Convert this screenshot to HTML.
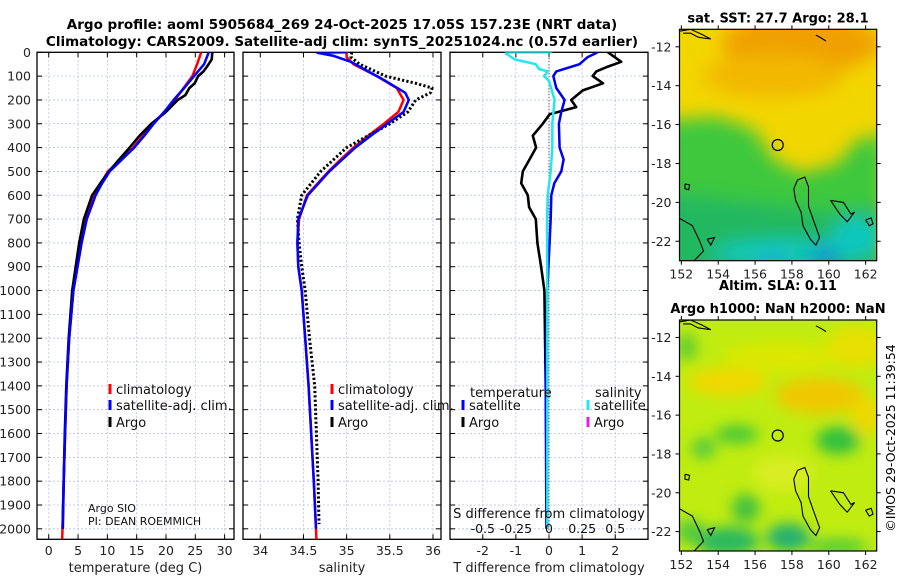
<!DOCTYPE html>
<html><head><meta charset="utf-8"><style>
html,body{margin:0;padding:0;background:#fff}
svg{display:block;font-family:"DejaVu Sans","Liberation Sans",sans-serif}
</style></head><body>
<svg id="fig" width="900" height="580" viewBox="0 0 900 580" xmlns="http://www.w3.org/2000/svg">
<defs>
<filter id="blur1" x="-20%" y="-20%" width="140%" height="140%"><feGaussianBlur stdDeviation="9"/></filter>
<filter id="blur2" x="-20%" y="-20%" width="140%" height="140%"><feGaussianBlur stdDeviation="7"/></filter>
<clipPath id="clipM1"><rect x="679.7" y="29.3" width="197" height="231.4"/></clipPath>
<clipPath id="clipM2"><rect x="679.3" y="320" width="197.4" height="231"/></clipPath>
<clipPath id="clipP1"><rect x="37" y="52.3" width="197" height="487"/></clipPath>
<clipPath id="clipP2"><rect x="243" y="52.3" width="198" height="487"/></clipPath>
<clipPath id="clipP3"><rect x="450" y="52.3" width="198" height="487"/></clipPath>
</defs>
<g font-weight="bold" font-size="13.5" text-anchor="middle">
<text x="342" y="29">Argo profile: aoml 5905684_269 24-Oct-2025 17.05S 157.23E (NRT data)</text>
<text x="342" y="46">Climatology: CARS2009. Satellite-adj clim: synTS_20251024.nc (0.57d earlier)</text>
</g>
<g id="panels"></g>
<g id="maps"></g>
<text transform="translate(895,438) rotate(-90)" text-anchor="middle" font-size="12.5">©IMOS 29-Oct-2025 11:39:54</text>
</svg>
<script>
// ---------- data ----------
const tempClimDepth = [0,50,100,150,200,250,300,350,400,450,500,550,600,700,800,900,1000,1200,1400,1600,1800,2000,2044];
const tempClimVal   = [26.0,25.3,24.5,23.0,21.5,19.7,17.8,16.1,14.4,12.3,10.1,8.9,7.8,6.4,5.6,4.9,4.2,3.5,3.05,2.8,2.55,2.35,2.3];
const tempSatDepth  = [0,50,100,150,200,250,300,350,400,450,500,550,600,700,800,900,1000,1200,1400,1600,1800,2000];
const tempSatVal    = [27.3,26.5,24.8,23.1,21.3,19.7,17.9,16.3,14.6,12.5,10.4,9.1,8.0,6.5,5.6,4.9,4.2,3.5,3.05,2.8,2.55,2.35];
const tempArgoDepth = [0,30,60,80,100,130,150,180,200,250,300,350,400,450,500,550,600,700,800,1000,1200,1400,1600,1800,2000];
const tempArgoVal   = [27.9,27.8,27.0,26.4,25.5,24.9,24.0,23.3,22.0,20.0,17.5,15.5,13.8,12.0,10.3,8.8,7.4,6.0,5.2,4.0,3.4,3.0,2.75,2.55,2.4];

const salClimDepth = [0,20,50,100,150,200,250,300,350,400,450,500,600,700,800,900,1000,1200,1400,1600,1800,2000,2044];
const salClimVal   = [35.0,35.0,35.08,35.35,35.58,35.66,35.6,35.43,35.25,35.08,34.93,34.79,34.54,34.45,34.43,34.44,34.48,34.52,34.56,34.59,34.62,34.645,34.65];
const salSatDepth  = [0,2,15,40,80,120,170,200,250,300,350,400,450,500,600,700,800,900,1000,1200,1400,1600,1800,2000];
const salSatVal    = [35.0,34.66,34.85,35.05,35.25,35.45,35.68,35.72,35.66,35.47,35.28,35.1,34.95,34.8,34.55,34.44,34.43,34.44,34.48,34.52,34.56,34.59,34.62,34.645];
const salArgoDepth = [0,20,50,100,130,150,170,200,250,300,350,400,450,500,600,700,800,900,1000,1200,1400,1600,1800,1980];
const salArgoVal   = [35.06,35.05,35.15,35.45,35.8,35.99,35.97,35.8,35.71,35.5,35.25,35.0,34.85,34.7,34.48,34.43,34.45,34.48,34.52,34.57,34.63,34.65,34.67,34.68];

const dTSatDepth  = [0,20,50,80,100,150,200,250,300,400,450,500,550,600,700,1000,1400,2000];
const dTSatVal    = [1.47,1.17,0.92,0.22,0.13,0.22,0.47,0.37,0.30,0.32,0.44,0.37,0.16,0.07,0.05,-0.05,-0.1,-0.08];
const dTArgoDepth = [0,20,40,60,80,100,130,160,200,230,260,300,350,400,450,500,550,600,650,700,800,900,1000,1400,2000];
const dTArgoVal   = [1.78,1.98,2.18,1.78,1.43,1.32,1.63,1.02,0.67,0.82,0.02,-0.19,-0.49,-0.39,-0.59,-0.79,-0.84,-0.64,-0.6,-0.4,-0.35,-0.24,-0.14,-0.1,-0.05];
const dSSatDepth  = [0,0.5,5,30,50,70,80,100,120,200,300,400,500,600,700,1000,1400,2000];
const dSSatVal    = [0.025,-0.325,-0.325,-0.26,-0.1,-0.075,-0.01,-0.0375,0,0.0425,0.025,0.025,0.0125,-0.01,-0.015,-0.0125,-0.0125,-0.0125];

const depthTicks = [0,100,200,300,400,500,600,700,800,900,1000,1100,1200,1300,1400,1500,1600,1700,1800,1900,2000];
const tempTicks = [0,5,10,15,20,25,30];
const salTicks = [34,34.5,35,35.5,36];
const salTickLabels = ["34","34.5","35","35.5","36"];
const dTTicks = [-2,-1,0,1,2];
const dSTicks = [-0.5,-0.25,0,0.25,0.5];
const dSTickLabels = ["-0.5","-0.25","0","0.25","0.5"];
const lonTicks = [152,154,156,158,160,162];
const latTicks = [-12,-14,-16,-18,-20,-22];
const argoLon = 157.23, argoLat = -17.05;

// ---------- helpers ----------
const NS = "http://www.w3.org/2000/svg";
function mk(tag, attrs, parent){const e=document.createElementNS(NS,tag);for(const k in attrs)e.setAttribute(k,attrs[k]);parent.appendChild(e);return e;}
const Y0=52.3, YB=539.3, DMAX=2044;
const yD = d => Y0 + d*(YB-Y0)/DMAX;
function lin(d0,d1,r0,r1){return v=>r0+(v-d0)*(r1-r0)/(d1-d0);}

const panels = document.getElementById('panels');
const P = [
 {x0:37,x1:234,sx:lin(-2,31.6,37,234),clip:'clipP1',name:'temperature-panel'},
 {x0:243,x1:441,sx:lin(33.8,36.093,243,441),clip:'clipP2',name:'salinity-panel'},
 {x0:450,x1:648,sx:lin(-2.99,2.99,450,648),clip:'clipP3',name:'difference-panel'}
];

function drawFrame(p, xt, xl, title){
 const g = mk('g',{},panels);
 
 
 // grid
 depthTicks.forEach(d=>{
  const l=mk('line',{x1:p.x0,x2:p.x1,y1:yD(d),y2:yD(d),stroke:'#b8c0e0','stroke-width':0.8,'stroke-dasharray':'2,2'},g);
  
  
  mk('line',{x1:p.x0,x2:p.x0+5,y1:yD(d),y2:yD(d),stroke:'#000','stroke-width':1},g);
  mk('line',{x1:p.x1-5,x2:p.x1,y1:yD(d),y2:yD(d),stroke:'#000','stroke-width':1},g);
 });
 xt.forEach((v,i)=>{
  const x=p.sx(v);
  const l=mk('line',{x1:x,x2:x,y1:Y0,y2:YB,stroke:'#b8c0e0','stroke-width':0.8,'stroke-dasharray':'2,2'},g);
  
  
  mk('line',{x1:x,x2:x,y1:YB-5,y2:YB,stroke:'#000','stroke-width':1},g);
  mk('line',{x1:x,x2:x,y1:Y0,y2:Y0+5,stroke:'#000','stroke-width':1},g);
  const t=mk('text',{x:x,y:555,'text-anchor':'middle','font-size':12.5,fill:'#222'},g);
  t.textContent=xl[i];
  
  
 });
 const r=mk('rect',{x:p.x0,y:Y0,width:p.x1-p.x0,height:YB-Y0,fill:'none',stroke:'#000','stroke-width':1.3},g);
 const at=mk('text',{x:(p.x0+p.x1)/2,y:572,'text-anchor':'middle','font-size':13,fill:'#222'},g);
 at.textContent=title;
 
 
 return g;
}
function line(p,depths,vals,color,w,name,dash,sx){
 sx = sx||p.sx;
 const pts=depths.map((d,i)=>sx(vals[i]).toFixed(1)+','+yD(d).toFixed(1)).join(' ');
 const a={points:pts,fill:'none',stroke:color,'stroke-width':w,'stroke-linejoin':'round','clip-path':'url(#'+p.clip+')'};
 if(dash)a['stroke-dasharray']=dash;
 const e=mk('polyline',a,panels);
 
 
 return e;
}
function legend(x,y,color,label,name){
 const g=mk('g',{},panels);
 
 
 mk('rect',{x:x-1.5,y:y-8,width:3,height:10,fill:color},g);
 if(label){const t=mk('text',{x:x+6,y:y+2,'font-size':13,fill:'#111'},g);t.textContent=label;}
}

// Depth axis labels
depthTicks.forEach(d=>{
 const t=mk('text',{x:31,y:yD(d)+4.5,'text-anchor':'end','font-size':12.5,fill:'#222'},panels);
 t.textContent=String(d);
 
 
});

// Panel 1
drawFrame(P[0],tempTicks,tempTicks.map(String),'temperature (deg C)');
line(P[0],tempClimDepth,tempClimVal,'#f00',2.5,'temperature-climatology-line');
line(P[0],tempArgoDepth,tempArgoVal,'#000',2.6,'temperature-argo-line');
line(P[0],tempSatDepth,tempSatVal,'#00f',2.5,'temperature-satellite-line');
legend(110,392,'#f00','climatology','legend-climatology');
legend(110,408,'#00f','satellite-adj. clim.','legend-satellite');
legend(110,425,'#000','Argo','legend-argo');
{const t=mk('text',{x:88,y:512,'font-size':11,fill:'#111'},panels);t.textContent='Argo SIO';
 const t2=mk('text',{x:88,y:525,'font-size':11,fill:'#111'},panels);t2.textContent='PI: DEAN ROEMMICH';}

// Panel 2
drawFrame(P[1],salTicks,salTickLabels,'salinity');
line(P[1],salClimDepth,salClimVal,'#f00',2.5,'salinity-climatology-line');
line(P[1],salArgoDepth,salArgoVal,'#000',3,'salinity-argo-line','2.2,2.2');
line(P[1],salSatDepth,salSatVal,'#00f',2.5,'salinity-satellite-line');
legend(332,392,'#f00','climatology','legend-climatology');
legend(332,408,'#00f','satellite-adj. clim.','legend-satellite');
legend(332,425,'#000','Argo','legend-argo');

// Panel 3
drawFrame(P[2],dTTicks,dTTicks.map(String),'T difference from climatology');
const sxS = lin(-0.7475,0.7475,450,648);
{const z=mk('line',{x1:P[2].sx(0),x2:P[2].sx(0),y1:Y0,y2:YB,stroke:'#333','stroke-width':1,'stroke-dasharray':'1,2'},panels);}
line(P[2],dTArgoDepth,dTArgoVal,'#000',2.6,'t-diff-argo-line');
line(P[2],dTSatDepth,dTSatVal,'#0000ee',2.5,'t-diff-satellite-line');
line(P[2],dSSatDepth,dSSatVal,'#22e8ee',2.5,'s-diff-satellite-line',null,sxS);
{const t=mk('text',{x:470,y:397,'font-size':13,fill:'#111'},panels);t.textContent='temperature';
 const t2=mk('text',{x:595,y:397,'font-size':13,fill:'#111'},panels);t2.textContent='salinity';}
legend(463,408,'#00f','satellite','legend-t-satellite');
legend(463,425,'#000','Argo','legend-t-argo');
legend(588,408,'#22e8ee','satellite','legend-s-satellite');
legend(588,425,'#e020e0','Argo','legend-s-argo');
{const t=mk('text',{x:549,y:518,'text-anchor':'middle','font-size':13,fill:'#111'},panels);t.textContent='S difference from climatology';}
dSTicks.forEach((v,i)=>{
 const t=mk('text',{x:sxS(v),y:533,'text-anchor':'middle','font-size':12.5,fill:'#111'},panels);
 t.textContent=dSTickLabels[i];
 
 
});

// ---------- maps ----------
const maps=document.getElementById('maps');
const islandA=[[158.3,-18.85],[158.7,-18.7],[158.9,-19.2],[158.9,-20.2],[159.2,-21],[159.5,-21.8],[159.3,-22.2],[159.0,-21.9],[158.6,-21.2],[158.5,-20.5],[158.2,-19.9],[158.1,-19.3],[158.3,-18.85]];
const islandB=[[160.1,-19.9],[160.8,-20.0],[161.2,-20.6],[161.4,-20.5],[161.0,-21.0],[160.6,-20.6],[160.1,-19.9]];
const islandC=[[162.0,-20.9],[162.3,-20.8],[162.4,-21.1],[162.2,-21.2],[162.0,-20.9]];
const coastL=[[151.85,-20.8],[152.6,-21.2],[153.0,-22.0],[153.2,-22.5],[152.6,-23.1]];
const coastTop=[[151.9,-11.2],[152.5,-11.1],[153.1,-11.35],[153.6,-11.6],[153.2,-11.55],[152.9,-11.5],[152.5,-11.3],[152.1,-11.3]];
const islandD=[[153.4,-21.9],[153.8,-21.8],[153.6,-22.2],[153.4,-21.9]];
const islandE=[[152.2,-19.05],[152.45,-19.1],[152.4,-19.35],[152.2,-19.3],[152.2,-19.05]];
const islandF=[[159.3,-11.4],[159.6,-11.55],[159.85,-11.7]];

function drawMap(top,bottom,clip,title1,title2,kind){
 const X0=679.5,X1=876.7;
 const mx=lin(151.9,162.6,X0,X1);
 const my=lin(-11.1,-23.0,top,bottom);
 const g=mk('g',{},maps);
 
 
 const f=mk('g',{'clip-path':'url(#'+clip+')'},g);
 if(kind==='sst'){
  mk('rect',{x:X0,y:top,width:X1-X0,height:bottom-top,fill:'#f2d600'},f);
  const b=mk('g',{filter:'url(#blur1)'},f);
  mk('ellipse',{cx:mx(158.5),cy:my(-11.8),rx:80,ry:30,fill:'#f0a000'},b);
  mk('ellipse',{cx:mx(157),cy:my(-13.5),rx:70,ry:22,fill:'#f2b800'},b);
  mk('polygon',{points:[[151,-15.8],[154,-15.6],[156,-16.3],[157,-17.8],[158.5,-18.5],[160.5,-18],[161.5,-16.8],[163,-16.5],[163,-24],[151,-24]].map(q=>mx(q[0])+','+my(q[1])).join(' '),fill:'#3cc83c'},b);
  mk('polygon',{points:[[151,-19.5],[156,-20],[160,-20.5],[163,-20.2],[163,-24],[151,-24]].map(q=>mx(q[0])+','+my(q[1])).join(' '),fill:'#20b860'},b);
  mk('ellipse',{cx:mx(157.5),cy:my(-22.6),rx:70,ry:14,fill:'#10c8b8'},b);
  mk('ellipse',{cx:mx(161.5),cy:my(-21.8),rx:25,ry:20,fill:'#10c8c0'},b);
  mk('ellipse',{cx:mx(159.8),cy:my(-22.8),rx:14,ry:8,fill:'#1080e0'},b);
  mk('ellipse',{cx:mx(157),cy:my(-23),rx:14,ry:6,fill:'#20a8e8'},b);
 } else {
  mk('rect',{x:X0,y:top,width:X1-X0,height:bottom-top,fill:'#c0ec10'},f);
  const b=mk('g',{filter:'url(#blur2)'},f);
  [[154.5,-14.3,40,14,'#f0d800'],[159.5,-15,45,18,'#f0c800'],[157.5,-13,60,15,'#dce800'],[161.5,-12.5,30,20,'#e8e000'],[162,-16,14,20,'#eed800'],[157.5,-19,30,18,'#d8ee20'],
   [155,-17,22,9,'#44c838'],[153.2,-17.7,12,10,'#50c840'],[160.5,-17.3,22,14,'#30c040'],[152.3,-12.5,10,14,'#60cc30'],[155.5,-20.8,14,14,'#40c040'],
   [154.5,-22.5,32,14,'#28b860'],[157.8,-22.3,22,14,'#20b070'],[160.5,-22.8,30,8,'#50c840'],[152.5,-22,14,12,'#50c840']].forEach(e=>{
   mk('ellipse',{cx:mx(e[0]),cy:my(e[1]),rx:e[2],ry:e[3],fill:e[4]},b);
  });
 }
 [islandA,islandB,islandC,coastL,coastTop,islandD,islandE,islandF].forEach((c,i)=>{
  const e=mk('polyline',{points:c.map(q=>mx(q[0]).toFixed(1)+','+my(q[1]).toFixed(1)).join(' '),fill:'none',stroke:'#000','stroke-width':1.1},f);
  
  
 });
 const c=mk('circle',{cx:mx(argoLon),cy:my(argoLat),r:5.5,fill:'none',stroke:'#000','stroke-width':1.2},g);
 
 
 mk('rect',{x:X0,y:top,width:X1-X0,height:bottom-top,fill:'none',stroke:'#000','stroke-width':1.2},g);
 latTicks.forEach(v=>{
  mk('line',{x1:X0-4,x2:X0,y1:my(v),y2:my(v),stroke:'#000'},g);
  mk('line',{x1:X1,x2:X1+4,y1:my(v),y2:my(v),stroke:'#000'},g);
  const t=mk('text',{x:X0-8,y:my(v)+4.5,'text-anchor':'end','font-size':12.5,fill:'#222'},g);
  t.textContent=String(v);
  
  
 });
 lonTicks.forEach(v=>{
  mk('line',{x1:mx(v),x2:mx(v),y1:bottom,y2:bottom+4,stroke:'#000'},g);
  mk('line',{x1:mx(v),x2:mx(v),y1:top-4,y2:top,stroke:'#000'},g);
  const t=mk('text',{x:mx(v),y:bottom+18,'text-anchor':'middle','font-size':12.5,fill:'#222'},g);
  t.textContent=String(v);
  
  
 });
 const t1=mk('text',{x:778,y:title2?top-30:top-7,'text-anchor':'middle','font-size':13,'font-weight':'bold'},g);
 t1.textContent=title1;
 
 
 if(title2){const t2=mk('text',{x:778,y:top-7,'text-anchor':'middle','font-size':13,'font-weight':'bold'},g);t2.textContent=title2;
  
  }
}
drawMap(29.3,260.7,'clipM1','sat. SST: 27.7 Argo: 28.1',null,'sst');
drawMap(320,551,'clipM2','Altim. SLA: 0.11','Argo h1000: NaN h2000: NaN','sla');
</script>
</body></html>
